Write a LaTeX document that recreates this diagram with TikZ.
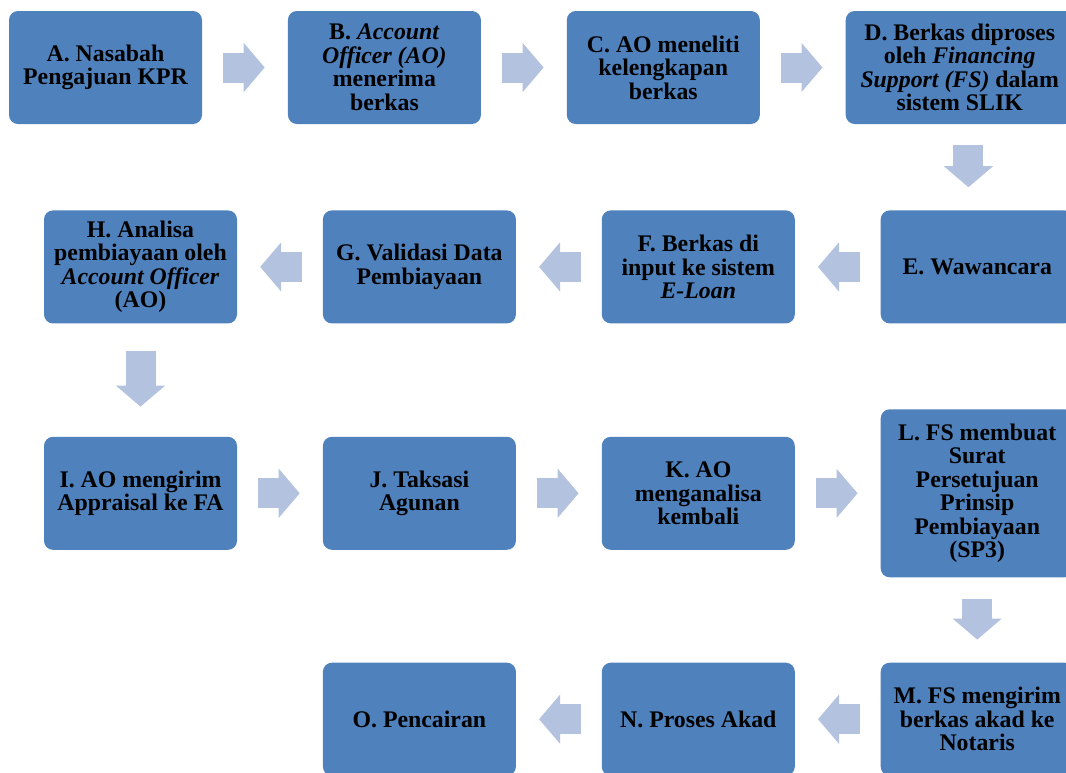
\documentclass[tikz,border=0pt]{standalone}
\usepackage{fontspec}
\setmainfont{Liberation Serif}
\usepackage{tikz}
\usetikzlibrary{arrows.meta, positioning, calc}
\definecolor{boxblue}{HTML}{4F81BD}
\definecolor{arrowblue}{HTML}{B3C2DE}
\tikzset{
    stepbox/.style={rectangle, rounded corners=9pt, minimum width=193pt, minimum height=113pt, inner sep=0pt, fill=boxblue, text=black, align=center, font=\bfseries\fontsize{23.8}{23.5}\selectfont},
    flowarrow/.style={draw=arrowblue, line width=30pt, -{Triangle[width=49pt, length=21pt, line width=1.5pt]}, shorten <=21pt, shorten >=23pt}
}
\begin{document}
\begin{tikzpicture}[
        x=1pt, y=-1pt,
        node distance=85.5pt % jarak antar kotak
    ]
        \useasboundingbox (0,0) rectangle (1066,772);
        \clip (0,0) rectangle (1066,772);

        % Baris 1
        \node[stepbox] (A) at (105.5,67.5) {A. Nasabah\\Pengajuan KPR};
        \node[stepbox, right=of A] (B) {B. \textit{Account}\\\textit{Officer (AO)}\\menerima\\berkas};
        \node[stepbox, right=of B] (C) {C. AO meneliti\\kelengkapan\\berkas};
        \node[stepbox, right=of C, minimum width=228pt] (D) {D. Berkas diproses\\oleh \textit{Financing}\\\textit{Support (FS)} dalam\\sistem SLIK};

        % Baris 2
        \node[stepbox, below=86pt of A, xshift=35pt] (H) {H. Analisa\\pembiayaan oleh\\\textit{Account Officer}\\(AO)};
        \node[stepbox, right=of H] (G) {G. Validasi Data\\Pembiayaan};
        \node[stepbox, right=of G] (F) {F. Berkas di\\input ke sistem\\\textit{E-Loan}};
        \node[stepbox, right=of F] (E) {E. Wawancara};

        % Baris 3
        \node[stepbox, below=113pt of H] (I) {I. AO mengirim\\Appraisal ke FA};
        \node[stepbox, right=of I] (J) {J. Taksasi\\Agunan};
        \node[stepbox, right=of J] (K) {K. AO\\menganalisa\\kembali};
        \node[stepbox, right=of K, minimum height=168pt] (L) {L. FS membuat\\Surat\\Persetujuan\\Prinsip\\Pembiayaan\\(SP3)};

        % Baris 4
        \node[stepbox, below=85pt of L] (M) {M. FS mengirim\\berkas akad ke\\Notaris};
        \node[stepbox, left=of M] (N) {N. Proses Akad};
        \node[stepbox, left=of N] (O) {O. Pencairan};

        % Panah
        \draw[flowarrow] (A) -- (B);
        \draw[flowarrow] (B) -- (C);
        \draw[flowarrow] (C) -- (D);
        \coordinate (de) at ($(D.south)!0.5!(E.north)$);
        \draw[flowarrow] (D.south -| de) -- (E.north -| de);
        \draw[flowarrow] (E) -- (F);
        \draw[flowarrow] (F) -- (G);
        \draw[flowarrow] (G) -- (H);
        \draw[flowarrow, shorten <=27pt, shorten >=30pt] (H) -- (I);
        \draw[flowarrow] (I) -- (J);
        \draw[flowarrow] (J) -- (K);
        \draw[flowarrow] (K) -- (L);
        \draw[flowarrow] (L) -- (M);
        \draw[flowarrow] (M) -- (N);
        \draw[flowarrow] (N) -- (O);
    \end{tikzpicture}
\end{document}
